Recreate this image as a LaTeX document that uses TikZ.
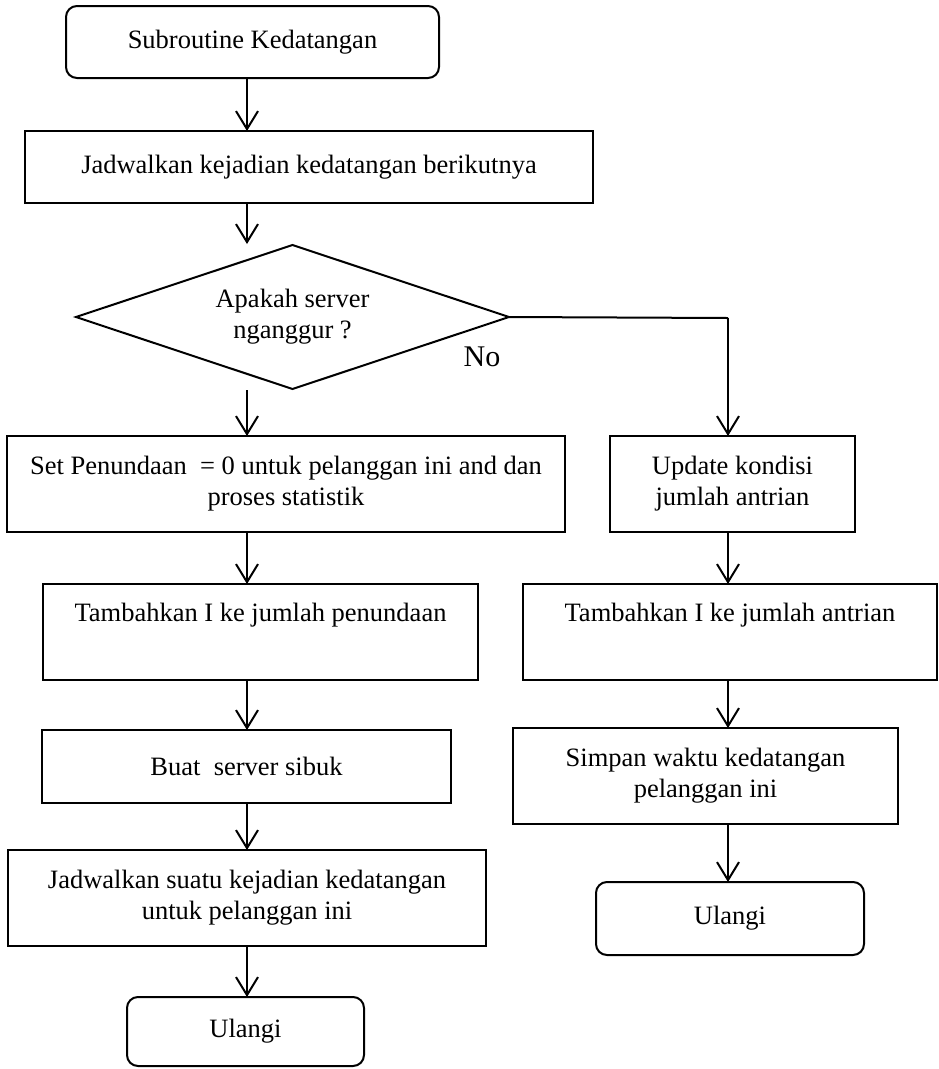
\documentclass[tikz,border=0pt]{standalone}
\usepackage{fontspec}
\setmainfont{Liberation Serif}
\usetikzlibrary{arrows.meta,shapes.geometric}
\begin{document}
\begin{tikzpicture}[x=1pt,y=-1pt,
  every node/.style={font=\fontsize{26.5}{31}\selectfont,inner sep=0pt,outer sep=0pt},
  box/.style={draw,line width=2pt,rectangle,align=center},
  rbox/.style={box,rounded corners=11pt},
  decision/.style={draw,line width=2pt,diamond,aspect=3,align=center},
  flow/.style={line width=2pt,-{Straight Barb[length=18pt,width=22pt]}},
  link/.style={line width=2pt}
]
\useasboundingbox (0,0) rectangle (939,1069);

% column axes for the connectors
\coordinate (colL) at (247,0);
\coordinate (colR) at (728,0);

% start and common steps
\node[rbox,minimum width=373pt,minimum height=72pt] (start) at (252.5,42) {Subroutine Kedatangan};
\node[box,minimum width=568pt,minimum height=72pt] (sched) at (309,167) {Jadwalkan kejadian kedatangan berikutnya};
\node[decision,minimum width=433pt,minimum height=144pt] (dec) at (292.5,317) {Apakah server\\nganggur ?};
\node[font=\fontsize{30}{34}\selectfont] (no) at (482,357) {No};

% left branch (server idle)
\node[box,minimum width=558pt,minimum height=96pt] (set) at (286,484) {Set Penundaan \ = 0 untuk pelanggan ini and dan\\proses statistik};
\node[box,minimum width=435pt,minimum height=96pt] (addL) at (260.5,632) {Tambahkan I ke jumlah penundaan\\\strut};
\node[box,minimum width=409pt,minimum height=73pt] (busy) at (246.5,766.5) {Buat \ server sibuk};
\node[box,minimum width=478pt,minimum height=96pt] (dep) at (247,898) {Jadwalkan suatu kejadian kedatangan\\untuk pelanggan ini};
\node[rbox,minimum width=237pt,minimum height=69pt] (endL) at (245.5,1031.5) {Ulangi};

% right branch (server busy)
\node[box,minimum width=245pt,minimum height=96pt] (upd) at (732.5,484) {Update kondisi\\jumlah antrian};
\node[box,minimum width=414pt,minimum height=96pt] (addR) at (730,632) {Tambahkan I ke jumlah antrian\\\strut};
\node[box,minimum width=385pt,minimum height=96pt] (store) at (705.5,776) {Simpan waktu kedatangan\\pelanggan ini};
\node[rbox,minimum width=268pt,minimum height=73pt] (endR) at (730,918.5) {Ulangi};

% free ends near the decision
\coordinate (decin) at (247,244);
\coordinate (yesout) at (247,390);
\coordinate (noturn) at (728,318);

% connectors
\draw[flow] (start.south -| colL) -- (sched.north -| colL);
\draw[flow] (sched.south -| colL) -- (decin);
\draw[flow] (yesout) -- (set.north -| colL);
\draw[flow] (set.south -| colL) -- (addL.north -| colL);
\draw[flow] (addL.south -| colL) -- (busy.north -| colL);
\draw[flow] (busy.south -| colL) -- (dep.north -| colL);
\draw[flow] (dep.south -| colL) -- (endL.north -| colL);

\draw[link] (dec.east) -- (noturn);
\draw[flow] (noturn) -- (upd.north -| colR);
\draw[flow] (upd.south -| colR) -- (addR.north -| colR);
\draw[flow] (addR.south -| colR) -- (store.north -| colR);
\draw[flow] (store.south -| colR) -- (endR.north -| colR);
\end{tikzpicture}
\end{document}
